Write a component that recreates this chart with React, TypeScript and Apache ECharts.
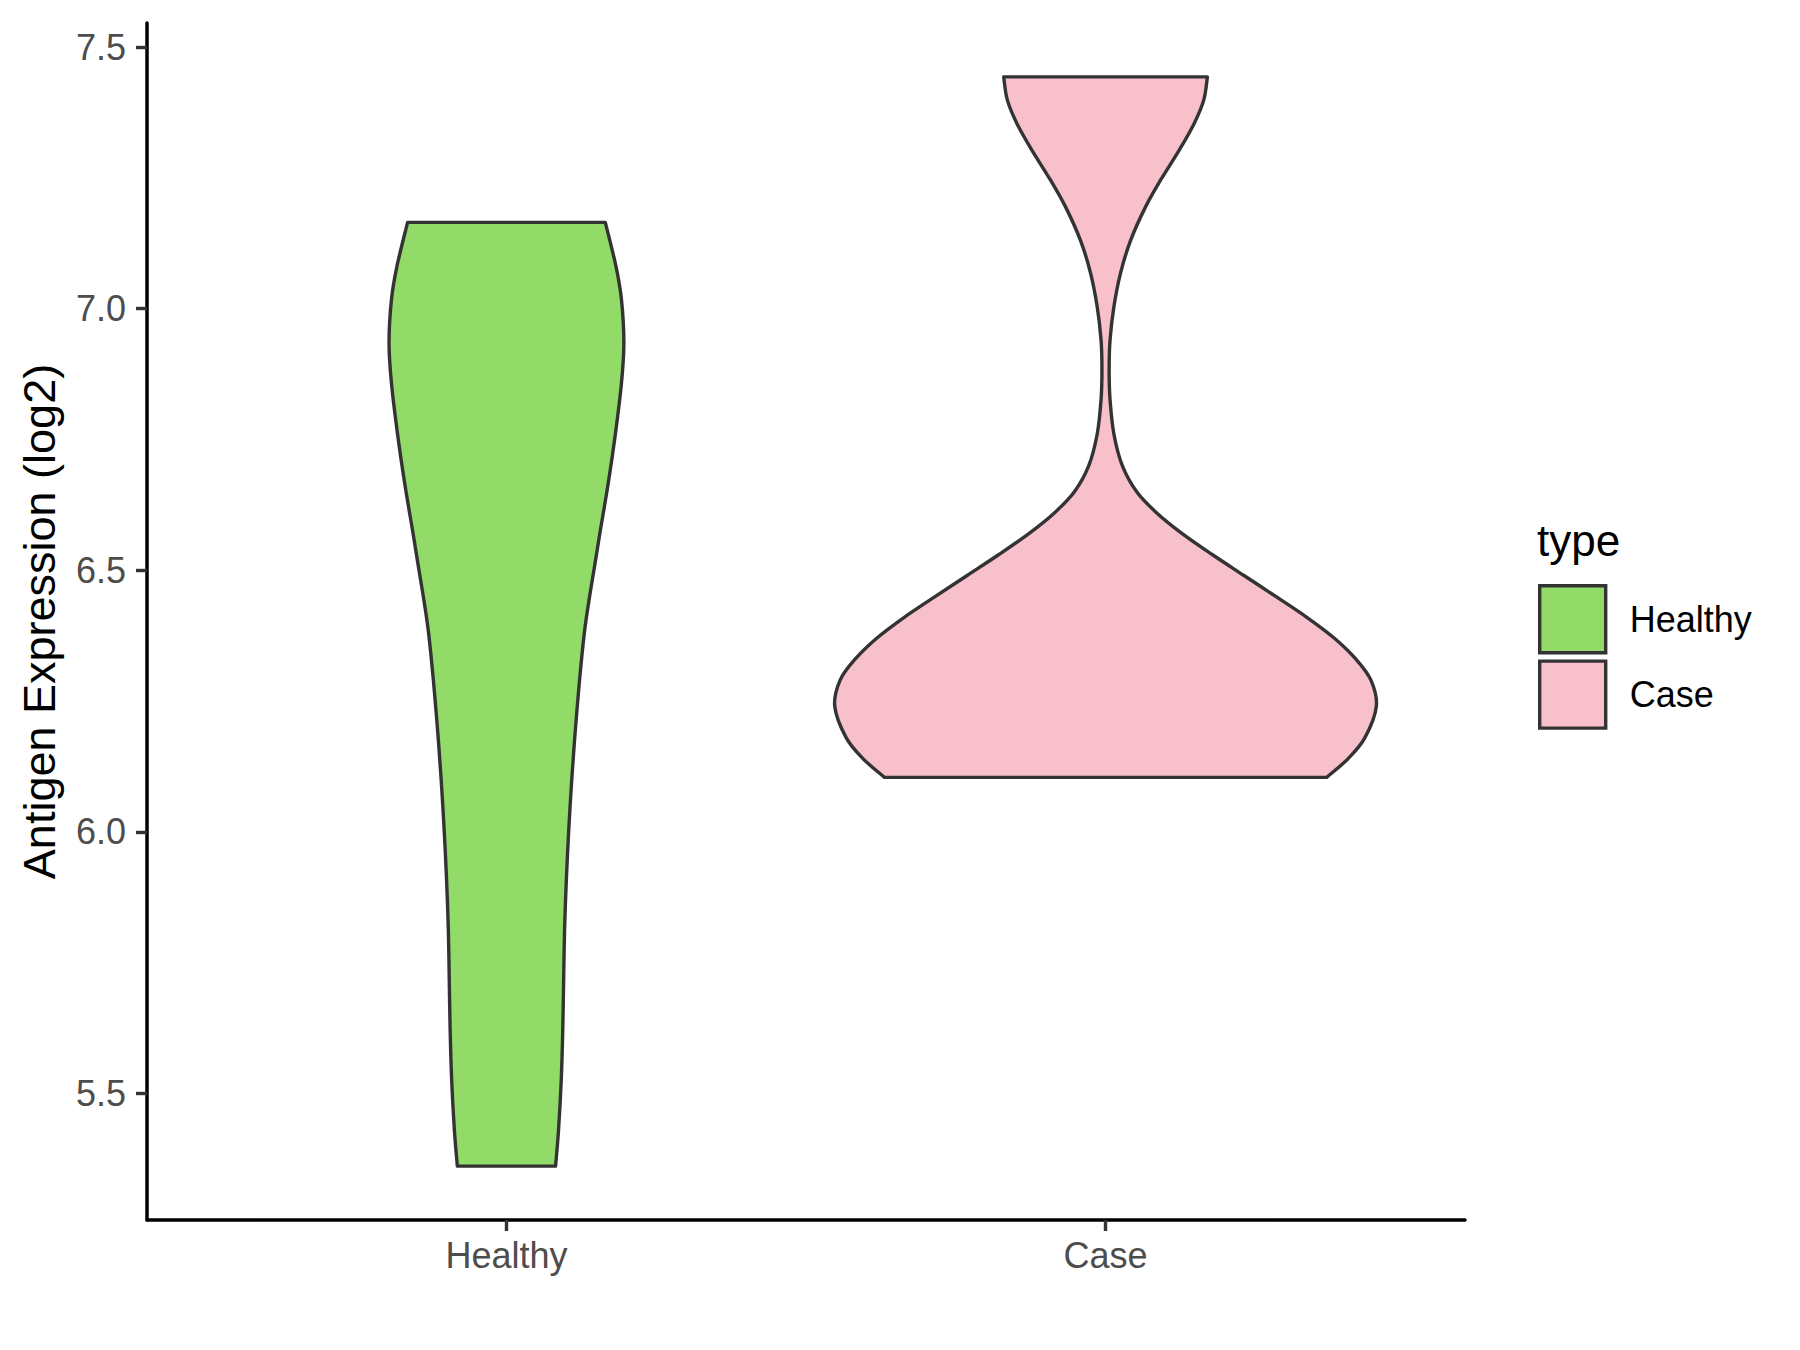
import React, { useEffect, useRef } from "react";
import * as echarts from "echarts";

const categories = ["Healthy", "Case"];
const yTicks = [5.5, 6.0, 6.5, 7.0, 7.5];

// violin outlines: expression value (ascending) and half-width (in category units)
const healthyY = [5.361, 5.431, 5.527, 5.622, 5.718, 5.813, 5.909, 6.004, 6.1, 6.195, 6.29, 6.38, 6.444, 6.507, 6.571, 6.667, 6.762, 6.858, 6.934, 7.017, 7.08, 7.165];
const healthyHalfWidth = [0.082, 0.087, 0.0915, 0.094, 0.0955, 0.097, 0.1, 0.104, 0.109, 0.115, 0.122, 0.13, 0.138, 0.147, 0.156, 0.17, 0.182, 0.192, 0.196, 0.192, 0.183, 0.165];

const caseY = [6.104, 6.14, 6.18, 6.24, 6.29, 6.33, 6.37, 6.41, 6.45, 6.49, 6.53, 6.57, 6.61, 6.65, 6.7, 6.76, 6.826, 6.883, 6.94, 7.004, 7.068, 7.131, 7.195, 7.246, 7.303, 7.354, 7.399, 7.443];
const caseHalfWidth = [0.369, 0.405, 0.433, 0.452, 0.443, 0.418, 0.382, 0.336, 0.284, 0.231, 0.178, 0.128, 0.085, 0.052, 0.028, 0.014, 0.0075, 0.006, 0.0075, 0.014, 0.025, 0.042, 0.067, 0.092, 0.123, 0.148, 0.164, 0.17];

const yMin = 5.258;
const yMax = 7.546;

const FONT = "'Liberation Sans', Arial, sans-serif";

type Pt = number[];

function curveThrough(p: Pt[]): string {
  let d = "";
  const n = p.length;
  for (let i = 0; i < n - 1; i++) {
    const p0 = p[i - 1] || p[i];
    const p1 = p[i];
    const p2 = p[i + 1];
    const p3 = p[i + 2] || p[i + 1];
    const c1x = p1[0] + (p2[0] - p0[0]) / 6;
    const c1y = p1[1] + (p2[1] - p0[1]) / 6;
    const c2x = p2[0] - (p3[0] - p1[0]) / 6;
    const c2y = p2[1] - (p3[1] - p1[1]) / 6;
    d += ` C${c1x.toFixed(2)},${c1y.toFixed(2)} ${c2x.toFixed(2)},${c2y.toFixed(2)} ${p2[0].toFixed(2)},${p2[1].toFixed(2)}`;
  }
  return d;
}

function violinPath(api: any, cx: number, ys: number[], hws: number[]): string {
  const left = ys.map((y, i) => api.coord([cx - hws[i], y]));
  const right = ys.map((y, i) => api.coord([cx + hws[i], y])).reverse();
  let d = `M${left[0][0].toFixed(2)},${left[0][1].toFixed(2)}`;
  d += curveThrough(left);
  d += ` L${right[0][0].toFixed(2)},${right[0][1].toFixed(2)}`;
  d += curveThrough(right);
  d += " Z";
  return d;
}

function makeViolin(name: string, index: number, ys: number[], hws: number[], fill: string) {
  return {
    type: "custom",
    name,
    coordinateSystem: "cartesian2d",
    data: [[index + 1, ys[0]]],
    encode: { x: 0, y: 1 },
    itemStyle: { color: fill, borderColor: "#333333", borderWidth: 3 },
    renderItem: (params: any, api: any) => {
      const cx = api.value(0);
      return {
        type: "path",
        shape: { pathData: violinPath(api, cx, ys, hws) },
        style: { fill, stroke: "#333333", lineWidth: 3.4, lineJoin: "round" },
      };
    },
  };
}

export default function App() {
  const ref = useRef<HTMLDivElement>(null);
  useEffect(() => {
    document.body.style.margin = "0";
    if (!ref.current) return;
    const chart = echarts.init(ref.current, null, { renderer: "svg" });
    chart.setOption({
      animation: false,
      backgroundColor: "#ffffff",
      textStyle: { fontFamily: FONT },
      grid: { left: 147, right: 335, top: 23, bottom: 130, containLabel: false },
      xAxis: {
        type: "value",
        min: 0.4,
        max: 2.6,
        splitLine: { show: false },
        axisLine: { onZero: false, lineStyle: { color: "#000000", width: 3.5 } },
        axisTick: { customValues: [1, 2], length: 11, lineStyle: { color: "#333333", width: 3.4 } },
        axisLabel: {
          customValues: [1, 2],
          formatter: (v: number) => categories[Math.round(v) - 1] || "",
          color: "#4D4D4D",
          fontSize: 36,
          margin: 17,
          fontFamily: FONT,
        },
      },
      yAxis: {
        type: "value",
        min: yMin,
        max: yMax,
        name: "Antigen Expression (log2)",
        nameLocation: "middle",
        nameRotate: 90,
        nameGap: 85,
        nameTextStyle: { color: "#000000", fontSize: 45, fontFamily: FONT },
        splitLine: { show: false },
        axisLine: { onZero: false, lineStyle: { color: "#000000", width: 3.5 } },
        axisTick: { customValues: yTicks, length: 11, lineStyle: { color: "#333333", width: 3.4 } },
        axisLabel: {
          customValues: yTicks,
          formatter: (v: number) => v.toFixed(1),
          color: "#4D4D4D",
          fontSize: 36,
          margin: 21,
          fontFamily: FONT,
        },
      },
      legend: {
        data: categories,
        orient: "vertical",
        left: 1538,
        top: 584,
        padding: 0,
        icon: "rect",
        itemWidth: 66,
        itemHeight: 67,
        itemGap: 5,
        itemStyle: { borderColor: "#333333", borderWidth: 3.4 },
        textStyle: { color: "#000000", fontSize: 36, fontFamily: FONT, padding: [0, 0, 0, 19] },
        selectedMode: false,
      },
      graphic: [
        {
          type: "text",
          left: 1537,
          top: 518,
          style: { text: "type", fontSize: 44, fill: "#000000", fontFamily: FONT },
        },
      ],
      series: [
        makeViolin(categories[0], 0, healthyY, healthyHalfWidth, "#93DB69"),
        makeViolin(categories[1], 1, caseY, caseHalfWidth, "#F8C0CB"),
      ],
    });
    return () => chart.dispose();
  }, []);
  return <div ref={ref} style={{ width: 1800, height: 1350 }} />;
}
